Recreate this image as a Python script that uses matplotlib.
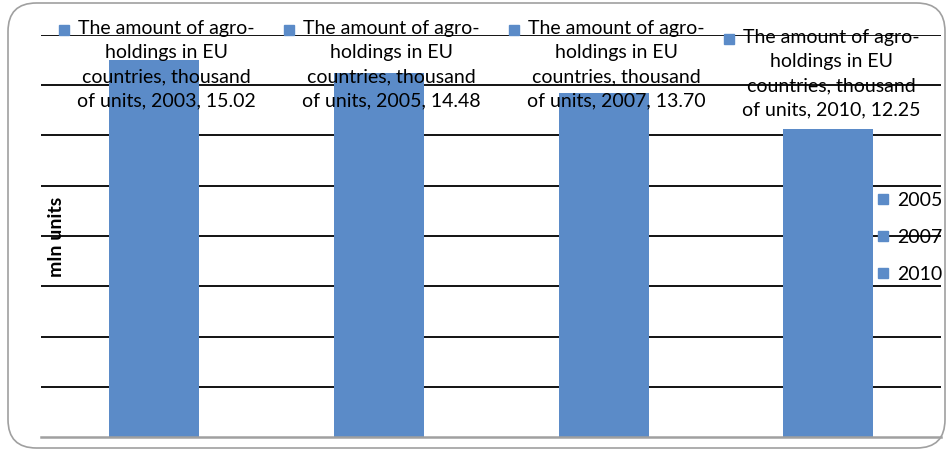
import matplotlib
matplotlib.use("Agg")
import matplotlib.pyplot as plt
import matplotlib.transforms as mtransforms
from matplotlib.lines import Line2D
from matplotlib.patches import FancyBboxPatch

years = ['2003', '2005', '2007', '2010']
values = [15.02, 14.48, 13.70, 12.25]
series_lines = ["The amount of agro-", "holdings in EU", "countries, thousand", "of units"]
legend_labels = ['2005', '2007', '2010']
y_label = "mln units"

bar_color = '#5B8BC8'
plt.rcParams['font.family'] = ['Lato', 'DejaVu Sans']

fig = plt.figure(figsize=(9.48, 4.58), dpi=100)
ax = fig.add_axes([41/948, 1-437/458, 900/948, 402/458])

x = list(range(len(years)))
ax.bar(x, values, width=0.4, color=bar_color, zorder=2)
ax.set_xlim(-0.5, len(years)-0.5)
ax.set_ylim(0, 16)
ax.set_yticks(range(2, 17, 2))
ax.yaxis.grid(True, color='black', linewidth=1.3, zorder=1)
ax.set_axisbelow(True)
ax.tick_params(left=False, bottom=False, labelleft=False, labelbottom=False)
for s in ['left', 'right', 'top']:
    ax.spines[s].set_visible(False)
ax.spines['bottom'].set_color('#A0A0A0')
ax.spines['bottom'].set_linewidth(1.8)
ax.spines['bottom'].set_zorder(3)

# data labels (placed at top of the plot area, as in the reference)
label_top = [16.60, 16.60, 16.60, 16.22]
label_dx = [9.5, 9.5, 9.5, 2.0]      # points
label_mx = [-90, -90, -90, -99]      # px offset of marker from bar centre
for i, (yr, v) in enumerate(zip(years, values)):
    txt = "\n".join(series_lines[:-1] + [f"{series_lines[-1]}, {yr}, {v:.2f}"])
    ax.annotate(txt, xy=(i, label_top[i]), xycoords='data',
                xytext=(label_dx[i], 0), textcoords='offset points',
                ha='center', va='top', fontsize=14, linespacing=1.5,
                zorder=4, annotation_clip=False)
    tr = ax.transData + mtransforms.ScaledTranslation(label_mx[i]/100, -10/100, fig.dpi_scale_trans)
    ax.plot([i], [label_top[i]], marker='s', markersize=7, color=bar_color,
            linestyle='None', clip_on=False, zorder=4, transform=tr)

handles = [Line2D([], [], marker='s', markersize=7, color=bar_color, linestyle='None')
           for _ in legend_labels]
fig.legend(handles, legend_labels, loc='upper left', bbox_to_anchor=(876/948, 1-192/458),
           frameon=False, fontsize=14, handlelength=0.7, handletextpad=0.4,
           labelspacing=1.02, borderpad=0, borderaxespad=0)

fig.text(57/948, 1-237/458, y_label, rotation=90, fontweight='bold', fontsize=14,
         ha='center', va='center')

border = FancyBboxPatch((8/948, 10/458), 937/948, 445/458, transform=fig.transFigure,
                        boxstyle='round,pad=0,rounding_size=0.03', facecolor='none',
                        edgecolor='#A0A0A0', linewidth=1.2, mutation_aspect=948/458)
fig.patches.append(border)

fig.savefig('out.png', dpi=100)
